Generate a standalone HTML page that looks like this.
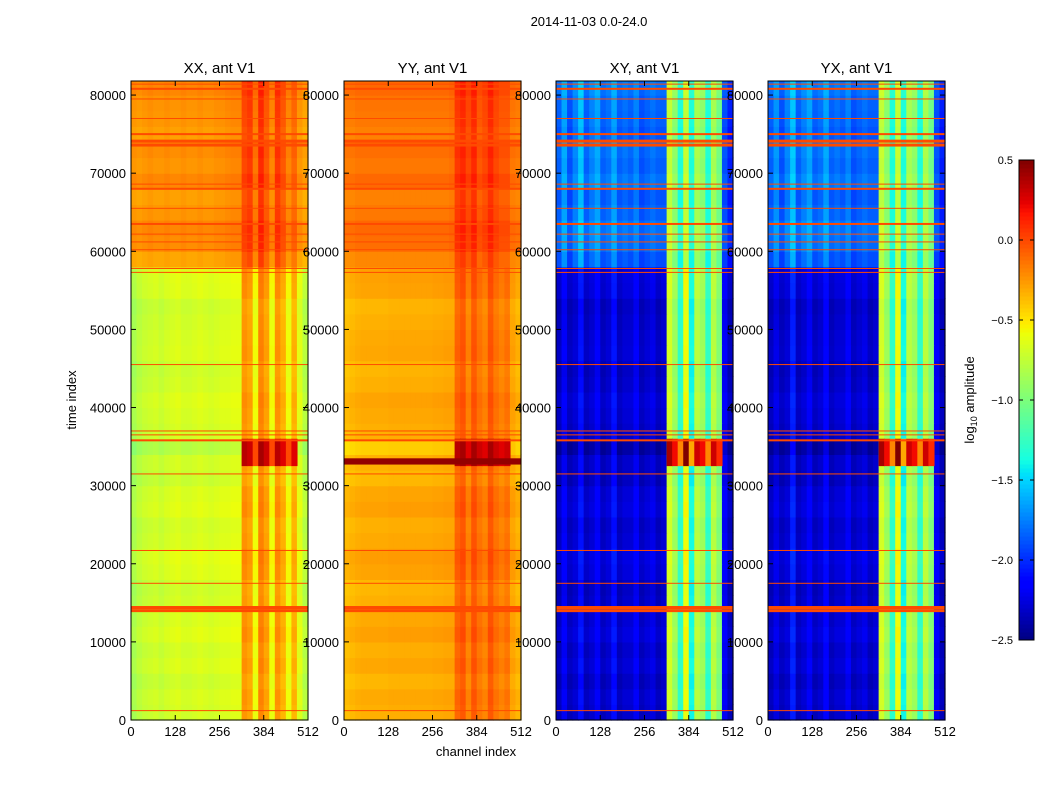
<!DOCTYPE html>
<html><head><meta charset="utf-8"><style>
body{margin:0;background:#fff;}
svg{display:block;font-family:"Liberation Sans",sans-serif;}
</style></head><body>
<svg id="fig" width="1050" height="800" viewBox="0 0 1050 800">
<rect width="1050" height="800" fill="#fff"/>
<text x="589" y="26" font-size="13" text-anchor="middle">2014-11-03 0.0-24.0</text>
<text transform="translate(76,400) rotate(-90)" font-size="13" text-anchor="middle">time index</text>
<text x="476" y="756" font-size="13" text-anchor="middle">channel index</text>
<g id="panels"></g>
<g id="cbar"></g>
</svg>
<script>
const panelTitles = ["XX, ant V1","YY, ant V1","XY, ant V1","YX, ant V1"];
const xTicks = [0,128,256,384,512];
const yTicks = [0,10000,20000,30000,40000,50000,60000,70000,80000];
const cbTicks = [0.5,0.0,-0.5,-1.0,-1.5,-2.0,-2.5];
const rowStep = 2000;
// channel profiles (32 bins of 16 channels), log10 amplitude
const xxLow  = [-0.85,-0.78,-0.74,-0.72,-0.7,-0.74,-0.7,-0.68,-0.66,-0.7,-0.7,-0.68,-0.66,-0.68,-0.7,-0.68,-0.66,-0.66,-0.64,-0.64,-0.25,-0.3,-0.6,-0.2,-0.3,-0.6,-0.25,-0.35,-0.6,-0.35,-0.65,-0.8];
const xxHigh = [-0.3,-0.32,-0.3,-0.28,-0.3,-0.3,-0.28,-0.3,-0.3,-0.28,-0.3,-0.3,-0.28,-0.3,-0.3,-0.28,-0.28,-0.26,-0.25,-0.25,-0.05,0.0,-0.2,0.05,-0.1,-0.25,0.0,-0.1,-0.25,-0.15,-0.3,-0.35];
const yyLow  = [-0.38,-0.36,-0.34,-0.33,-0.33,-0.33,-0.33,-0.33,-0.32,-0.32,-0.32,-0.32,-0.32,-0.32,-0.32,-0.32,-0.31,-0.31,-0.3,-0.3,-0.1,-0.05,-0.2,-0.05,-0.15,-0.2,-0.05,-0.15,-0.2,-0.15,-0.3,-0.35];
const yyHigh = [-0.22,-0.22,-0.2,-0.2,-0.2,-0.2,-0.2,-0.2,-0.2,-0.2,-0.2,-0.2,-0.2,-0.2,-0.2,-0.2,-0.2,-0.2,-0.2,-0.18,0.0,0.05,-0.05,0.05,-0.1,-0.05,0.05,-0.05,-0.1,-0.1,-0.2,-0.22];
const xyLow  = [-2.35,-2.2,-2.35,-2.3,-2.1,-2.35,-2.3,-2.2,-2.35,-2.3,-2.1,-2.35,-2.3,-2.3,-2.2,-2.35,-2.3,-2.25,-2.35,-2.3,-0.7,-0.9,-1.3,-0.6,-1.4,-0.8,-0.9,-1.3,-0.8,-1.0,-2.2,-2.35];
const xyHigh = [-1.9,-1.7,-1.95,-1.8,-1.6,-1.9,-1.8,-1.7,-1.9,-1.85,-1.7,-1.9,-1.85,-1.9,-1.8,-1.95,-1.9,-1.85,-1.9,-1.9,-0.8,-1.0,-1.4,-0.8,-1.4,-0.9,-1.0,-1.4,-0.9,-1.1,-1.95,-2.1];
const yxLow  = [-2.35,-2.25,-2.35,-2.3,-2.05,-2.35,-2.3,-2.2,-2.35,-2.3,-2.15,-2.35,-2.3,-2.3,-2.2,-2.35,-2.3,-2.25,-2.35,-2.3,-0.7,-0.9,-1.3,-0.6,-1.4,-0.8,-0.9,-1.3,-0.8,-1.0,-2.2,-2.35];
const yxHigh = [-1.9,-1.75,-1.95,-1.8,-1.6,-1.9,-1.8,-1.7,-1.9,-1.85,-1.7,-1.9,-1.85,-1.9,-1.8,-1.95,-1.9,-1.85,-1.9,-1.9,-0.8,-1.0,-1.4,-0.8,-1.4,-0.9,-1.0,-1.4,-0.9,-1.1,-1.95,-2.1];
// per-row (2000 samples) offsets
const rowOffset = [0,0.02,-0.02,0.03,0,0.05,0.02,0,-0.02,0.04,0.06,0.02,0,0.05,0.03,-0.03,0,-0.1,0,0.02,0.04,0,-0.02,0.03,0.02,0,-0.02,0.04,0.05,0,0.08,0.1,0.05,0.02,0.1,0.05,0.08,0.02,0.05,0.06,0.1];
const hotStart = 32500, hotEnd = 36000;
const hotBoost = [0.6,0.45,1.1,1.1];
const highStart = 57000;
const flagTimes = [1200,14000,14400,17500,21700,31500,35800,36500,37000,45500,57300,57800,60200,61200,62200,63500,65500,68000,68600,73600,74100,75000,77000,79500,80800,81400];
const flagWidths = [1,3,3,1,1,1,2,1,1,1,1,1,1,1,1,2,1,2,1,3,3,2,1,1,2,1];
const profiles = [[xxLow,xxHigh],[yyLow,yyHigh],[xyLow,xyHigh],[yxLow,yxHigh]];
const panelLeft = [131,344,556,768];
const pw = 177, pTop = 81, pBot = 720, tMax = 81800, nChan = 512;
const vmin = -2.5, vmax = 0.5;
const NS = "http://www.w3.org/2000/svg";
const jetR=[[0,0],[0.35,0],[0.66,1],[0.89,1],[1,0.5]];
const jetG=[[0,0],[0.125,0],[0.375,1],[0.64,1],[0.91,0],[1,0]];
const jetB=[[0,0.5],[0.11,1],[0.34,1],[0.65,0],[1,0]];
function interp(pts,x){for(let i=1;i<pts.length;i++){if(x<=pts[i][0]){const a=pts[i-1],b=pts[i];return a[1]+(b[1]-a[1])*(x-a[0])/(b[0]-a[0]);}}return pts[pts.length-1][1];}
function jet(v){
  let x=(v-vmin)/(vmax-vmin); x=Math.max(0,Math.min(1,x));
  return `rgb(${Math.round(interp(jetR,x)*255)},${Math.round(interp(jetG,x)*255)},${Math.round(interp(jetB,x)*255)})`;
}
function el(tag,attrs,parent){const e=document.createElementNS(NS,tag);for(const k in attrs)e.setAttribute(k,attrs[k]);parent.appendChild(e);return e;}
const yScale = t => pBot - (t/tMax)*(pBot-pTop);
const root = document.getElementById('panels');
profiles.forEach((prof,p)=>{
  const L = panelLeft[p];
  const xScale = c => L + c/nChan*pw;
  const g = el('g',{},root);
  
  
  const nRows = Math.ceil(tMax/rowStep);
  for(let r=0;r<nRows;r++){
    const t0=r*rowStep, t1=Math.min(tMax,t0+rowStep);
    const base = t0>=highStart?prof[1]:prof[0];
    for(let b=0;b<base.length;b++){
      let v = base[b] + rowOffset[r%rowOffset.length];
      const x0=xScale(b*16), x1=xScale((b+1)*16);
      const y0=yScale(t1), y1=yScale(t0);
      const rc = el('rect',{x:x0,y:y0,width:x1-x0+0.6,height:y1-y0+0.6,fill:jet(v)},g);
      
      
    }
  }
  for(let b=20;b<30;b++){
    const v = prof[0][b] + hotBoost[p];
    const rc = el('rect',{x:xScale(b*16),y:yScale(hotEnd),width:xScale(16)-L+0.6,height:yScale(hotStart)-yScale(hotEnd),fill:jet(v)},g);
    
    
  }
  if(p===1){
    const rc = el('rect',{x:L,y:yScale(33500),width:pw,height:yScale(32700)-yScale(33500),fill:jet(0.45)},g);
    
    
  }
  flagTimes.forEach((t,i)=>{
    const ln = el('rect',{x:L,y:yScale(t)-flagWidths[i]/2,width:pw,height:flagWidths[i],fill:'#ff4a00'},g);
    
    
  });
  const fr = el('rect',{x:L,y:pTop,width:pw,height:pBot-pTop,fill:'none',stroke:'#000','stroke-width':1},g);
  
  
  const tt = el('text',{x:L+pw/2,y:73,'font-size':15,'text-anchor':'middle'},g);
  tt.textContent = panelTitles[p];
  
  
  xTicks.forEach(c=>{
    const x=xScale(c);
    el('line',{x1:x,x2:x,y1:pBot,y2:pBot-5,stroke:'#000'},g);
    el('line',{x1:x,x2:x,y1:pTop,y2:pTop+5,stroke:'#000'},g);
    const tx = el('text',{x:x,y:736,'font-size':13,'text-anchor':'middle'},g);
    tx.textContent=c;
    
    
  });
  yTicks.forEach(t=>{
    const y=yScale(t);
    el('line',{x1:L,x2:L+5,y1:y,y2:y,stroke:'#000'},g);
    el('line',{x1:L+pw,x2:L+pw-5,y1:y,y2:y,stroke:'#000'},g);
    const tx = el('text',{x:L-5,y:y+5,'font-size':13,'text-anchor':'end'},g);
    tx.textContent=t;
    
    
  });
});
const cb = document.getElementById('cbar');
const cbX=1019, cbW=15, cbTop=160, cbBot=640;
const cbY = v => cbBot - (v-vmin)/(vmax-vmin)*(cbBot-cbTop);
for(let i=0;i<120;i++){
  const v0=vmin+i*(vmax-vmin)/120, v1=vmin+(i+1)*(vmax-vmin)/120;
  const r=el('rect',{x:cbX,y:cbY(v1),width:cbW,height:cbY(v0)-cbY(v1)+0.5,fill:jet((v0+v1)/2)},cb);
  
  
}
const cbf=el('rect',{x:cbX,y:cbTop,width:cbW,height:cbBot-cbTop,fill:'none',stroke:'#000'},cb);


cbTicks.forEach(v=>{
  const y=cbY(v);
  el('line',{x1:cbX,x2:cbX+4,y1:y,y2:y,stroke:'#000'},cb);
  el('line',{x1:cbX+cbW,x2:cbX+cbW-4,y1:y,y2:y,stroke:'#000'},cb);
  const t=el('text',{x:1013,y:y+4,'font-size':11,'text-anchor':'end'},cb);
  t.textContent=(v<0?'\u2212':'')+Math.abs(v).toFixed(1);
  
  
});
const cl=el('text',{transform:'translate(974,400) rotate(-90)','font-size':13,'text-anchor':'middle'},cb);
cl.innerHTML='log<tspan font-size="9" dy="3">10</tspan><tspan dy="-3"> amplitude</tspan>';


</script>
</body></html>
